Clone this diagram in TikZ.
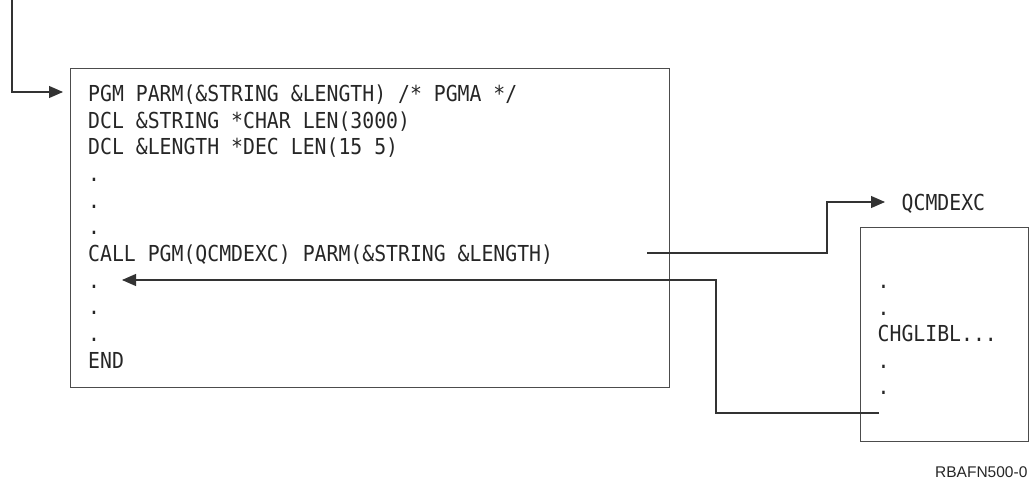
\documentclass[tikz,border=0pt]{standalone}
\usepackage{fontspec}
\setmonofont[FakeStretch=0.9]{DejaVu Sans Mono}
\setsansfont{Liberation Sans}
\usetikzlibrary{arrows.meta}
\begin{document}
\begin{tikzpicture}[x=1pt,y=-1pt,
  code/.style={font=\ttfamily\fontsize{22}{26}\selectfont, text=black!85, inner sep=0pt, anchor=base west},
  box/.style={draw=black!70, line width=1.2pt, inner sep=0pt, anchor=north west},
  conn/.style={draw=black!80, line width=1.1pt},
  arr/.style={conn, -{Triangle[length=14pt,width=12pt]}}]
\useasboundingbox (0,0) rectangle (1029,479);
% boxes
\node[box, minimum width=599pt, minimum height=319pt] (pgma) at (70,68) {};
\node[box, minimum width=168pt, minimum height=214pt] (qcmd) at (860,227) {};
% left program text
\node[code] (l0) at (88,101) {PGM PARM(\&STRING \&LENGTH) /* PGMA */};
\node[code] (l1) at (88,128) {DCL \&STRING *CHAR LEN(3000)};
\node[code] (l2) at (88,154) {DCL \&LENGTH *DEC LEN(15 5)};
\node[code] (l3) at (88,181) {.};
\node[code] (l4) at (88,208) {.};
\node[code] (l5) at (88,234) {.};
\node[code] (l6) at (88,261) {CALL PGM(QCMDEXC) PARM(\&STRING \&LENGTH)};
\node[code] (l7) at (88,288) {.};
\node[code] (l8) at (88,314) {.};
\node[code] (l9) at (88,341) {.};
\node[code] (l10) at (88,368) {END};
% right program text
\node[code] (qname) at (901.5,210) {QCMDEXC};
\node[code] (r0) at (877.5,288) {.};
\node[code] (r1) at (877.5,315) {.};
\node[code] (r2) at (877.5,341) {CHGLIBL...};
\node[code] (r3) at (877.5,368) {.};
\node[code] (r4) at (877.5,394) {.};
% figure id
\node[font=\sffamily\fontsize{15.5}{18}\selectfont, anchor=base west, inner sep=0pt, text=black!85] (figid) at (935,477) {RBAFN500-0};
% connectors
\coordinate (src) at (12,0);
\coordinate (pgmtip) at (63,92);
\draw[arr] (src) |- (pgmtip);
\coordinate (callout) at (647,253);
\coordinate (qtip) at (885,202);
\draw[arr] (callout) -- (827,253) |- (qtip);
\coordinate (retin) at (879,413);
\coordinate (rettip) at (122,280);
\draw[arr] (retin) -| (716,280) -- (rettip);
\end{tikzpicture}
\end{document}
